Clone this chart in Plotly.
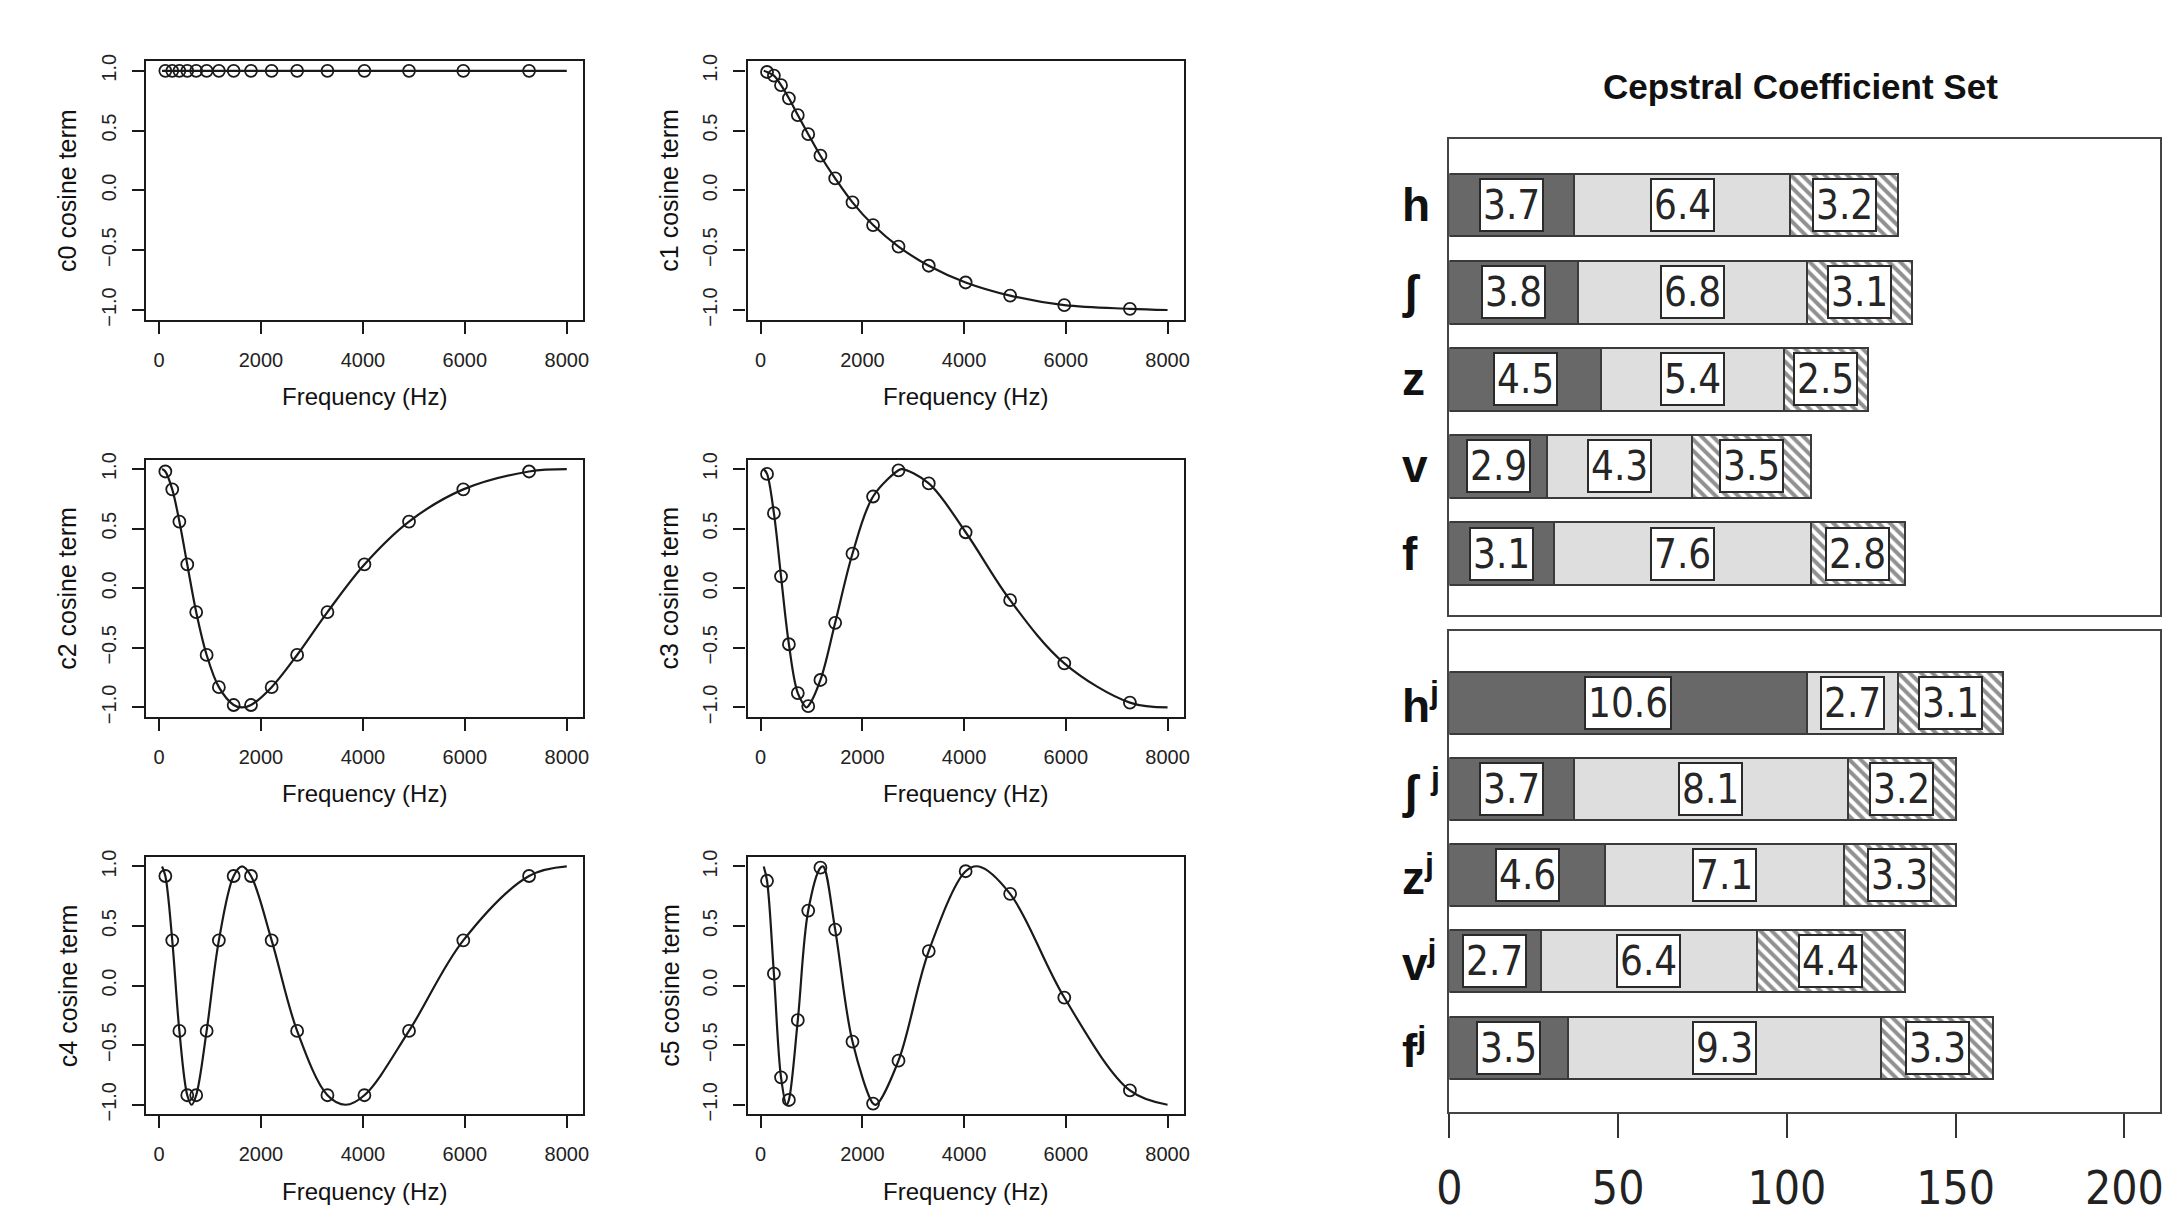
import plotly.graph_objects as go

W, H = 2183, 1215

# ---------------- data: cosine panels ----------------
freq_pts = [125, 260, 400, 555, 730, 935, 1175, 1465, 1805, 2210, 2710, 3305, 4030, 4905, 5970, 7260]

c0_pts = [1.0] * 16
c1_pts = [0.99, 0.96, 0.88, 0.77, 0.63, 0.47, 0.29, 0.10, -0.10, -0.29, -0.47, -0.63, -0.77, -0.88, -0.96, -0.99]
c2_pts = [0.98, 0.83, 0.56, 0.20, -0.20, -0.56, -0.83, -0.98, -0.98, -0.83, -0.56, -0.20, 0.20, 0.56, 0.83, 0.98]
c3_pts = [0.96, 0.63, 0.10, -0.47, -0.88, -0.99, -0.77, -0.29, 0.29, 0.77, 0.99, 0.88, 0.47, -0.10, -0.63, -0.96]
c4_pts = [0.92, 0.38, -0.38, -0.92, -0.92, -0.38, 0.38, 0.92, 0.92, 0.38, -0.38, -0.92, -0.92, -0.38, 0.38, 0.92]
c5_pts = [0.88, 0.10, -0.77, -0.96, -0.29, 0.63, 0.99, 0.47, -0.47, -0.99, -0.63, 0.29, 0.96, 0.77, -0.10, -0.88]

# extra vertices of the continuous curves (ends and turning points)
c0_extra_x = [60, 8000]
c0_extra_y = [1.0, 1.0]
c1_extra_x = [60, 8000]
c1_extra_y = [1.0, -1.0]
c2_extra_x = [60, 1630, 8000]
c2_extra_y = [1.0, -1.0, 1.0]
c3_extra_x = [60, 900, 2780, 8000]
c3_extra_y = [1.0, -1.0, 1.0, -1.0]
c4_extra_x = [60, 640, 1630, 3660, 8000]
c4_extra_y = [1.0, -1.0, 1.0, -1.0, 1.0]
c5_extra_x = [60, 510, 1230, 2270, 4290, 8000]
c5_extra_y = [1.0, -1.0, 1.0, -1.0, 1.0, -1.0]

panel_names = ["c0", "c1", "c2", "c3", "c4", "c5"]
panel_pts = [c0_pts, c1_pts, c2_pts, c3_pts, c4_pts, c5_pts]
panel_extra = [(c0_extra_x, c0_extra_y), (c1_extra_x, c1_extra_y), (c2_extra_x, c2_extra_y),
               (c3_extra_x, c3_extra_y), (c4_extra_x, c4_extra_y), (c5_extra_x, c5_extra_y)]

x_ticks = [0, 2000, 4000, 6000, 8000]
y_ticks = [-1.0, -0.5, 0.0, 0.5, 1.0]
y_ticktext = ["\u22121.0", "\u22120.5", "0.0", "0.5", "1.0"]

# ---------------- data: bar chart ----------------
upper_cats = ["h", "ʃ", "z", "v", "f"]
upper_dark = [3.7, 3.8, 4.5, 2.9, 3.1]
upper_light = [6.4, 6.8, 5.4, 4.3, 7.6]
upper_hatch = [3.2, 3.1, 2.5, 3.5, 2.8]

lower_cats = ["hʲ", "ʃʲ", "zʲ", "vʲ", "fʲ"]
lower_labels = ["h<sup>j</sup>", "ʃ <sup>j</sup>", "z<sup>j</sup>", "v<sup>j</sup>", "f<sup>j</sup>"]
lower_dark = [10.6, 3.7, 4.6, 2.7, 3.5]
lower_light = [2.7, 8.1, 7.1, 6.4, 9.3]
lower_hatch = [3.1, 3.2, 3.3, 4.4, 3.3]

bar_unit = 10  # bar length units per labelled value
bar_ticks = [0, 50, 100, 150, 200]

# ---------------- layout geometry (pixels) ----------------
col_x = [(134, 575), (741, 1181)]
row_y = [(55, 317), (459, 720), (862, 1123)]
bar_x = (1449, 2166)
bar_upper_y = (134, 617)
bar_lower_y = (633, 1121)


def xd(a, b):
    return [a / W, b / W]


def yd(top, bot):
    return [1 - bot / H, 1 - top / H]


fig = go.Figure()
layout = {}
annotations = []
R_FONT = "Liberation Sans, Arial, Helvetica, sans-serif"
INK = "#1a1a1a"

for i, name in enumerate(panel_names):
    r, c = divmod(i, 2)
    ax = i + 1
    xs = "x" if ax == 1 else f"x{ax}"
    ys = "y" if ax == 1 else f"y{ax}"
    ex, ey = panel_extra[i]
    pairs = sorted(list(zip(freq_pts, panel_pts[i])) + list(zip(ex, ey)))
    cx = [p[0] for p in pairs]
    cy = [p[1] for p in pairs]
    fig.add_trace(go.Scatter(x=cx, y=cy, mode="lines", line=dict(color=INK, width=2.2, shape="spline", smoothing=1.0),
                             xaxis=xs, yaxis=ys, showlegend=False, hoverinfo="skip"))
    fig.add_trace(go.Scatter(x=freq_pts, y=panel_pts[i], mode="markers",
                             marker=dict(symbol="circle-open", size=12, color=INK, line=dict(width=1.8, color=INK)),
                             xaxis=xs, yaxis=ys, showlegend=False))
    x0, x1 = col_x[c]
    t0, t1 = row_y[r]
    layout[f"xaxis{'' if ax == 1 else ax}"] = dict(
        domain=xd(x0, x1), anchor=ys, range=[-258, 8318], tickvals=x_ticks,
        ticks="outside", ticklen=12, tickwidth=2, tickcolor=INK, showline=True, mirror=True,
        linecolor=INK, linewidth=2.2, showgrid=False, zeroline=False,
        tickfont=dict(family=R_FONT, size=20, color="#222"), ticklabelstandoff=9)
    layout[f"yaxis{'' if ax == 1 else ax}"] = dict(
        domain=yd(t0, t1), anchor=xs, range=[-1.08, 1.08], tickvals=y_ticks, ticktext=y_ticktext,
        tickangle=-90, ticks="outside", ticklen=12, tickwidth=2, tickcolor=INK, showline=True, mirror=True,
        linecolor=INK, linewidth=2.2, showgrid=False, zeroline=False,
        tickfont=dict(family=R_FONT, size=20, color="#222"), ticklabelstandoff=8)
    annotations.append(dict(text="Frequency (Hz)", xref="paper", yref="paper",
                            x=(x0 + x1) / 2 / W, y=1 - (t1 + 78) / H, showarrow=False,
                            font=dict(family=R_FONT, size=24, color="#111"), xanchor="center", yanchor="middle"))
    annotations.append(dict(text=f"{name} cosine term", xref="paper", yref="paper",
                            x=(x0 - 79) / W, y=1 - (t0 + t1) / 2 / H, showarrow=False, textangle=-90,
                            font=dict(family=R_FONT, size=25, color="#111"), xanchor="center", yanchor="middle"))

# ---------------- bars ----------------
DARK = "#686868"
LIGHT = "#dedede"
EDGE = "#3a3a3a"
LBL_FONT = "DejaVu Sans Condensed, DejaVu Sans, sans-serif"


def add_bar_panel(cats, dark, light, hatch, xs, ys):
    segs = [(dark, dict(color=DARK)), (light, dict(color=LIGHT)),
            (hatch, dict(color="white", pattern=dict(shape="\\", fgcolor="#222", bgcolor="white", size=8, solidity=0.5)))]
    starts = [0.0] * len(cats)
    for vals, mk in segs:
        lengths = [v * bar_unit for v in vals]
        m = dict(mk)
        m["line"] = dict(color=EDGE, width=2)
        fig.add_trace(go.Bar(y=cats, x=lengths, orientation="h", marker=m, width=0.72,
                             xaxis=xs, yaxis=ys, showlegend=False))
        for k, cat in enumerate(cats):
            annotations.append(dict(text=f"{vals[k]:.1f}", xref=xs, yref=ys,
                                    x=starts[k] + lengths[k] / 2, y=cat, showarrow=False,
                                    font=dict(family=LBL_FONT, size=40, color="#262626"),
                                    bgcolor="white", bordercolor="#2a2a2a", borderwidth=2, borderpad=2))
            starts[k] += lengths[k]


add_bar_panel(upper_cats, upper_dark, upper_light, upper_hatch, "x7", "y7")
add_bar_panel(lower_cats, lower_dark, lower_light, lower_hatch, "x8", "y8")

layout["xaxis7"] = dict(domain=xd(*bar_x), anchor="y7", range=[0, 210.6], showticklabels=False, ticks="",
                        showline=True, mirror=True, linecolor="#444", linewidth=2.2, showgrid=False, zeroline=False)
layout["yaxis7"] = dict(domain=yd(*bar_upper_y), anchor="x7", type="category", categoryarray=upper_cats,
                        range=[4.709, -0.756], showticklabels=False, ticks="",
                        showline=True, mirror=True, linecolor="#444", linewidth=2.2, showgrid=False, zeroline=False)
layout["xaxis8"] = dict(domain=xd(*bar_x), anchor="y8", range=[0, 210.6], tickvals=bar_ticks,
                        ticks="outside", ticklen=24, tickwidth=2.2, tickcolor="#333",
                        tickfont=dict(family=LBL_FONT, size=46, color="#222"), ticklabelstandoff=10,
                        showline=True, mirror=True, linecolor="#444", linewidth=2.2, showgrid=False, zeroline=False)
layout["yaxis8"] = dict(domain=yd(*bar_lower_y), anchor="x8", type="category", categoryarray=lower_cats,
                        range=[4.749, -0.829], showticklabels=False, ticks="",
                        showline=True, mirror=True, linecolor="#444", linewidth=2.2, showgrid=False, zeroline=False)

CAT_FONT = "Liberation Sans, Arial, DejaVu Sans, sans-serif"
for cat in upper_cats:
    annotations.append(dict(text=f"<b>{cat}</b>", xref="paper", yref="y7", x=1399 / W, y=cat,
                            xanchor="left", yanchor="middle", showarrow=False,
                            font=dict(family=CAT_FONT, size=46, color="#111")))
for cat, lab in zip(lower_cats, lower_labels):
    annotations.append(dict(text=f"<b>{lab}</b>", xref="paper", yref="y8", x=1399 / W, y=cat,
                            xanchor="left", yanchor="middle", showarrow=False,
                            font=dict(family=CAT_FONT, size=46, color="#111")))

annotations.append(dict(text="<b>Cepstral Coefficient Set</b>", xref="paper", yref="paper",
                        x=1803 / W, y=1 - 81 / H, showarrow=False, xanchor="center", yanchor="middle",
                        font=dict(family=CAT_FONT, size=35, color="#111")))

fig.update_layout(width=W, height=H, margin=dict(l=0, r=0, t=0, b=0), paper_bgcolor="white",
                  plot_bgcolor="white", barmode="stack", bargap=0.28, annotations=annotations, **layout)

fig.write_html("out.html", config={"displayModeBar": False},
               post_script="document.body.style.margin='0';document.body.style.overflow='hidden';")
